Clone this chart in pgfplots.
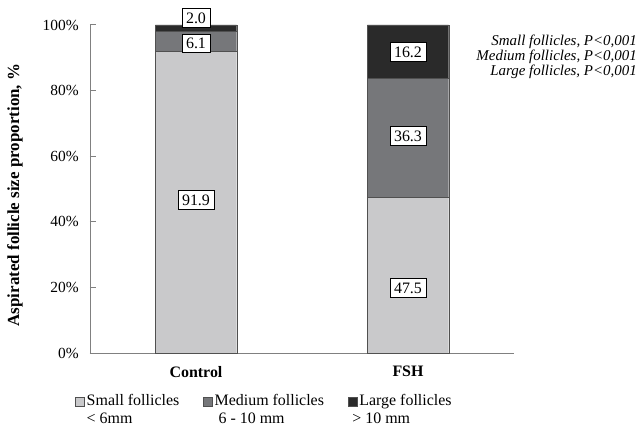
\documentclass[border=0pt]{standalone}
\usepackage{pgfplots}
\pgfplotsset{compat=1.18}
\usepackage{fontspec}
\setmainfont{Liberation Serif}
\definecolor{cSmall}{HTML}{C9C9CB}
\definecolor{cMed}{HTML}{76777A}
\definecolor{cLarge}{HTML}{2A2A2A}
\definecolor{cEdge}{HTML}{505050}
\definecolor{cAxis}{HTML}{808080}
\begin{document}
\fontsize{15.5}{18}\selectfont
\begin{tikzpicture}
\begin{axis}[
  name=ax,
  scale only axis,
  width=424bp, height=328bp,
  xmin=-0.5, xmax=1.5, ymin=0, ymax=100,
  ybar stacked, bar width=0.384,
  axis lines*=left,
  axis line style={cAxis, line width=1pt},
  /pgf/number format/assume math mode=true,
  xtick={0,1}, xticklabels={\textbf{Control},\textbf{FSH}},
  xticklabel style={yshift=-8bp, font=\fontsize{16}{18}\selectfont},
  xtick style={draw=none},
  ytick={0,20,40,60,80,100},
  yticklabels={0\%,20\%,40\%,60\%,80\%,100\%},
  yticklabel style={xshift=-6bp},
  ytick style={cAxis, line width=1pt},
  tick align=inside, major tick length=6bp,
  clip=false,
  legend columns=3,
  legend cell align=left,
  legend style={draw=none, fill=none, at={(-0.035,-0.12)}, anchor=north west,
    inner sep=0pt, row sep=0.5bp, font=\fontsize{16}{18}\selectfont,
    /tikz/every even column/.append style={column sep=22bp}},
  legend image code/.code={\draw[#1, draw=cEdge] (0bp,-4.5bp) rectangle (9bp,4.5bp);},
]
\addplot[fill=cSmall, draw=cEdge] coordinates {(0,91.9) (1,47.5)};
\addlegendentry{Small follicles}
\addplot[fill=cMed, draw=cEdge] coordinates {(0,6.1) (1,36.3)};
\addlegendentry{Medium follicles}
\addplot[fill=cLarge, draw=cEdge] coordinates {(0,2.0) (1,16.2)};
\addlegendentry{Large follicles}
\addlegendimage{empty legend}\addlegendentry{< 6mm}
\addlegendimage{empty legend}\addlegendentry{\hspace*{4bp}6 - 10 mm}
\addlegendimage{empty legend}\addlegendentry{\hspace*{-7bp}> 10 mm}
\coordinate (v1) at (axis cs:0,46.6);
\coordinate (v2) at (axis cs:0,94.4);
\coordinate (v3) at (axis cs:0,102.1);
\coordinate (v4) at (axis cs:1,19.8);
\coordinate (v5) at (axis cs:1,66.2);
\coordinate (v6) at (axis cs:1,91.8);
\node[rotate=90, font=\bfseries\fontsize{17}{20}\selectfont] at ([xshift=-75bp, yshift=-6bp]rel axis cs:0,0.5)
  {Aspirated follicle size proportion, \%};
\node[anchor=north east, align=right, font=\itshape\fontsize{15}{15}\selectfont, inner sep=0pt] at ([xshift=123bp, yshift=-10bp]rel axis cs:1,1)
  {Small follicles, P<0,001\\Medium follicles, P<0,001\\Large follicles, P<0,001};
\end{axis}
\tikzset{vbox/.style={draw=black, fill=white, inner sep=4bp, line width=0.6pt, font=\fontsize{16}{18}\selectfont}}
\node[vbox] at (v1) {91.9};
\node[vbox] at (v2) {6.1};
\node[vbox] at (v3) {2.0};
\node[vbox] at (v4) {47.5};
\node[vbox] at (v5) {36.3};
\node[vbox] at (v6) {16.2};
\pgfresetboundingbox
\path ([xshift=-90bp,yshift=-74bp]ax.south west) rectangle ([xshift=127bp,yshift=25bp]ax.north east);
\end{tikzpicture}
\end{document}
